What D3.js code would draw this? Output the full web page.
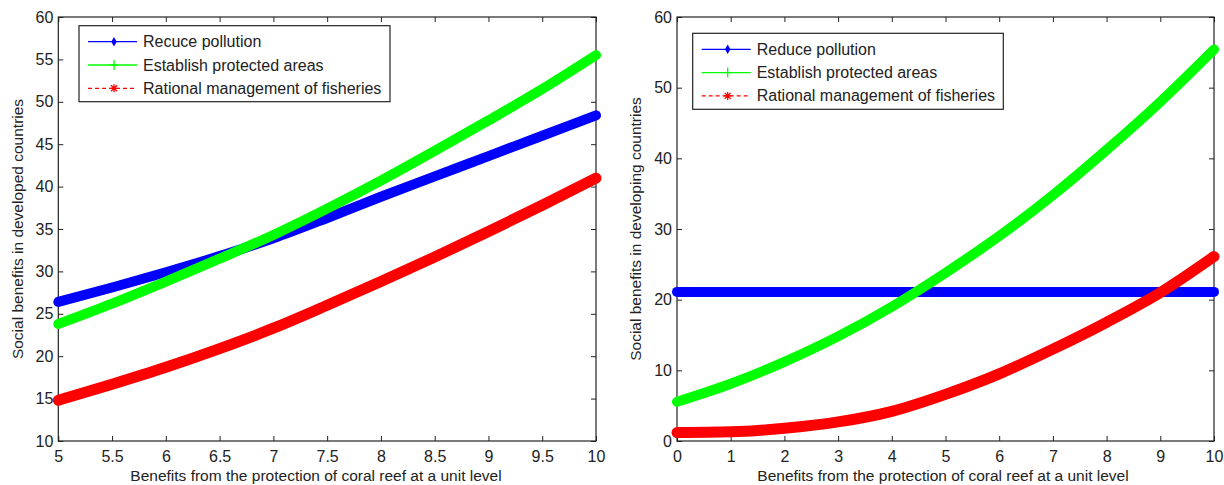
<!DOCTYPE html>
<html>
<head>
    <meta charset="utf-8">
    <title>Social benefits of coral reef protection</title>
    <script src="https://d3js.org/d3.v7.min.js"></script>
    <style>
        body {
            margin: 0;
            background: #fff;
        }

        text {
            font-family: "Liberation Sans", Arial, sans-serif;
            fill: #222;
        }

        .axis path,
        .axis line {
            stroke: #222;
        }
    </style>
</head>
<body>
    <svg width="1224" height="485"></svg>

    <script>
        // left panel: developed countries, x from 5 to 10
        const devX = [5, 5.5, 6, 6.5, 7, 7.5, 8, 8.5, 9, 9.5, 10];
        const devPollution = [26.4, 28.1, 29.9, 31.8, 33.9, 36.3, 38.8, 41.2, 43.6, 46.0, 48.4];
        const devProtected = [23.8, 26.2, 28.8, 31.5, 34.3, 37.4, 40.7, 44.2, 47.8, 51.5, 55.5];
        const devFisheries = [14.8, 16.7, 18.7, 20.9, 23.3, 26.0, 28.8, 31.7, 34.7, 37.8, 41.0];
        const devXTicks = [5, 5.5, 6, 6.5, 7, 7.5, 8, 8.5, 9, 9.5, 10];
        const devYTicks = [10, 15, 20, 25, 30, 35, 40, 45, 50, 55, 60];

        // right panel: developing countries, x from 0 to 10
        const dvgX = [0, 1, 2, 3, 4, 5, 6, 7, 8, 9, 10];
        const dvgPollution = [21.1, 21.1, 21.1, 21.1, 21.1, 21.1, 21.1, 21.1, 21.1, 21.1, 21.1];
        const dvgProtected = [5.55, 8.1, 11.2, 14.8, 19.0, 23.8, 29.0, 34.8, 41.2, 48.0, 55.4];
        const dvgFisheries = [1.2, 1.3, 1.8, 2.7, 4.2, 6.6, 9.5, 13.0, 16.8, 21.0, 26.1];
        const dvgXTicks = [0, 1, 2, 3, 4, 5, 6, 7, 8, 9, 10];
        const dvgYTicks = [0, 10, 20, 30, 40, 50, 60];

        const xLabel = "Benefits from the protection of coral reef at a unit level";

        const svg = d3.select("svg");

        function drawPanel(p) {
            const x = d3.scaleLinear().domain(p.xDomain).range([p.left, p.right]);
            const y = d3.scaleLinear().domain(p.yDomain).range([p.bottom, p.top]);
            const g = svg.append("g");
            const fmt = d => String(d);

            g.append("g").attr("class", "axis")
                .attr("transform", `translate(0,${p.bottom})`)
                .call(d3.axisBottom(x).tickValues(p.xTicks).tickFormat(fmt)
                    .tickSizeInner(-5).tickSizeOuter(0).tickPadding(9.5))
                .call(a => a.selectAll("text").attr("font-size", 16).style("font-family", null));
            g.append("g").attr("class", "axis")
                .attr("transform", `translate(0,${p.top})`)
                .call(d3.axisTop(x).tickValues(p.xTicks).tickFormat("")
                    .tickSizeInner(-5).tickSizeOuter(0));
            g.append("g").attr("class", "axis")
                .attr("transform", `translate(${p.left},0)`)
                .call(d3.axisLeft(y).tickValues(p.yTicks).tickFormat(fmt)
                    .tickSizeInner(-5).tickSizeOuter(0).tickPadding(5))
                .call(a => a.selectAll("text").attr("font-size", 16).style("font-family", null));
            g.append("g").attr("class", "axis")
                .attr("transform", `translate(${p.right},0)`)
                .call(d3.axisRight(y).tickValues(p.yTicks).tickFormat("")
                    .tickSizeInner(-5).tickSizeOuter(0));
            g.selectAll(".axis .domain").remove();

            g.append("rect")
                .attr("x", p.left).attr("y", p.top)
                .attr("width", p.right - p.left).attr("height", p.bottom - p.top)
                .attr("fill", "none").attr("stroke", "#222").attr("stroke-width", 1.2);

            // curves
            const line = d3.line()
                .x(d => x(d[0]))
                .y(d => y(d[1]))
                .curve(d3.curveMonotoneX);

            p.series.forEach(s => {
                g.append("path")
                    .datum(p.xs.map((v, i) => [v, s.values[i]]))
                    .attr("d", line)
                    .attr("fill", "none")
                    .attr("stroke", s.color)
                    .attr("stroke-width", s.width)
                    .attr("stroke-linecap", "round")
                    .attr("stroke-linejoin", "round");
            });

            // axis titles
            g.append("text")
                .attr("x", p.xTitleX).attr("y", 481)
                .attr("text-anchor", "middle")
                .attr("font-size", 15.5)
                .text(xLabel);
            g.append("text")
                .attr("transform", `translate(${p.left - 41},${(p.top + p.bottom) / 2}) rotate(-90)`)
                .attr("text-anchor", "middle")
                .attr("dy", "0.35em")
                .attr("font-size", 15.5)
                .text(p.yLabel);

            // legend
            const lg = g.append("g").attr("transform", `translate(${p.legend[0]},${p.legend[1]})`);
            lg.append("rect")
                .attr("width", p.legend[2]).attr("height", 76)
                .attr("fill", "#fff").attr("stroke", "#222").attr("stroke-width", 1.2);

            p.series.forEach((s, i) => {
                const cy = 16 + i * 23.3;
                lg.append("line")
                    .attr("x1", 9).attr("x2", 58).attr("y1", cy).attr("y2", cy)
                    .attr("stroke", s.color).attr("stroke-width", 1.3)
                    .attr("stroke-dasharray", s.dash);
                const mk = lg.append("g").attr("transform", `translate(35,${cy})`);
                if (s.marker === "dot") {
                    mk.append("path").attr("d", d3.symbol(d3.symbolDiamond, 26)())
                        .attr("fill", s.color);
                } else if (s.marker === "plus") {
                    mk.append("path").attr("d", "M-4,0H4M0,-5V5")
                        .attr("stroke", s.color).attr("stroke-width", 1.3);
                } else {
                    mk.append("path").attr("d", "M-4,0H4M0,-4V4M-3,-3L3,3M-3,3L3,-3")
                        .attr("stroke", s.color).attr("stroke-width", 1.3);
                }
                lg.append("text")
                    .attr("x", 64).attr("y", cy).attr("dy", "0.35em")
                    .attr("font-size", 16)
                    .text(s.name);
            });
        }

        drawPanel({
            left: 58.3, right: 596, top: 17, bottom: 441,
            xDomain: [5, 10], yDomain: [10, 60],
            xTicks: devXTicks, yTicks: devYTicks,
            xs: devX,
            xTitleX: 316,
            yLabel: "Social benefits in developed countries",
            legend: [79, 25.7, 311],
            series: [
                { name: "Recuce pollution", values: devPollution, color: "#0000ff", width: 10, marker: "dot", dash: null },
                { name: "Establish protected areas", values: devProtected, color: "#00ff00", width: 10, marker: "plus", dash: null },
                { name: "Rational management of fisheries", values: devFisheries, color: "#ff0000", width: 11, marker: "star", dash: "4,3" }
            ]
        });

        drawPanel({
            left: 677, right: 1214, top: 17, bottom: 441,
            xDomain: [0, 10], yDomain: [0, 60],
            xTicks: dvgXTicks, yTicks: dvgYTicks,
            xs: dvgX,
            xTitleX: 943,
            yLabel: "Social benefits in developing countries",
            legend: [692.7, 33.3, 310.6],
            series: [
                { name: "Reduce pollution", values: dvgPollution, color: "#0000ff", width: 10, marker: "dot", dash: null },
                { name: "Establish protected areas", values: dvgProtected, color: "#00ff00", width: 10, marker: "plus", dash: null },
                { name: "Rational management of fisheries", values: dvgFisheries, color: "#ff0000", width: 11, marker: "star", dash: "4,3" }
            ]
        });
    </script>
</body>
</html>
